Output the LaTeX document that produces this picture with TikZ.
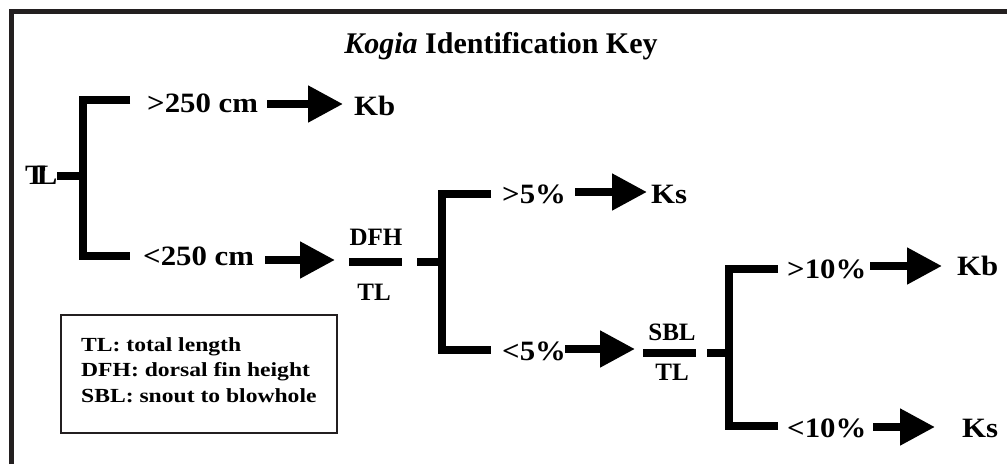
\documentclass[tikz,border=0pt]{standalone}
\usepackage{fontspec}
\setmainfont{Liberation Serif}
\newfontfamily\keyfont[FakeStretch=1.1]{Liberation Serif}
\newfontfamily\legfont[FakeStretch=1.18]{Liberation Serif}
\usetikzlibrary{arrows.meta}
\definecolor{framegray}{HTML}{231F20}
\tikzset{
  bar/.style={line width=8pt},
  fat/.style={line width=8pt,-{Triangle[length=35pt,width=35pt]}},
  big/.style={inner sep=0pt,anchor=base west,font=\keyfont\bfseries\fontsize{28}{30}\selectfont},
  frac/.style={inner sep=0pt,anchor=base,font=\bfseries\fontsize{25}{27}\selectfont},
  keytext/.style={inner sep=0pt,anchor=north west,align=left,
    font=\legfont\bfseries\fontsize{20}{25.5}\selectfont},
}
\begin{document}
\begin{tikzpicture}[x=1pt,y=-1pt]
\useasboundingbox (0,0) rectangle (1007,464);
% frame (cut at right and bottom)
\draw[line width=5.5pt,color=framegray] (11.5,464) -- (11.5,11.5) -- (1007,11.5);
\node[inner sep=0pt,anchor=base,font=\bfseries\fontsize{30}{32}\selectfont] (title) at (501,53) {\textit{Kogia} Identification Key};

% total length
\node[big] (tl) at (25,184) {T\kern-9pt L};
\coordinate (f1) at (82.5,176);
\coordinate (f1a) at (130,100);
\coordinate (f1b) at (130,256);
\draw[bar] (tl.east |- f1) -- (f1);
\draw[bar] (f1a) -| (f1) |- (f1b);
\node[big] (gt250) at (147,112) {>250 cm};
\node[big] (lt250) at (143,265) {<250 cm};
\node[big] (kb1) at (354,115) {Kb};
\coordinate (a1s) at (267,104);
\coordinate (a1e) at (343,104);
\coordinate (a2s) at (265,260);
\coordinate (a2e) at (335,260);
\draw[fat] (a1s) -- (a1e);
\draw[fat] (a2s) -- (a2e);

% dorsal fin height / total length
\node[frac] (dfh) at (376,245) {DFH};
\node[frac] (tla) at (374,300) {TL};
\coordinate (r1l) at (349,262);
\coordinate (r1r) at (402,262);
\coordinate (d1) at (417,262);
\coordinate (f2) at (441.5,262);
\coordinate (f2a) at (491,193.5);
\coordinate (f2b) at (491,350);
\draw[bar] (r1l) -- (r1r);
\draw[bar] (d1) -- (f2);
\draw[bar] (f2a) -| (f2) |- (f2b);
\node[big] (gt5) at (502,203) {>5\%};
\node[big] (lt5) at (502,360) {<5\%};
\node[big] (ks1) at (651,203) {Ks};
\coordinate (a3s) at (575,192);
\coordinate (a3e) at (647,192);
\coordinate (a4s) at (565,349);
\coordinate (a4e) at (635,349);
\draw[fat] (a3s) -- (a3e);
\draw[fat] (a4s) -- (a4e);

% snout to blowhole / total length
\node[frac] (sbl) at (672,340) {SBL};
\node[frac] (tlb) at (672,380) {TL};
\coordinate (r2l) at (643,353);
\coordinate (r2r) at (696,353);
\coordinate (d2) at (707,353);
\coordinate (f3) at (728.5,353);
\coordinate (f3a) at (778,269);
\coordinate (f3b) at (778,426);
\draw[bar] (r2l) -- (r2r);
\draw[bar] (d2) -- (f3);
\draw[bar] (f3a) -| (f3) |- (f3b);
\node[big] (gt10) at (787,278) {>10\%};
\node[big] (lt10) at (787,437) {<10\%};
\node[big] (kb2) at (957,275) {Kb};
\node[big] (ks2) at (962,437) {Ks};
\coordinate (a5s) at (870,266);
\coordinate (a5e) at (942,266);
\coordinate (a6s) at (873,427);
\coordinate (a6e) at (935,427);
\draw[fat] (a5s) -- (a5e);
\draw[fat] (a6s) -- (a6e);

% key
\draw[line width=2.5pt,color=framegray] (61,315) rectangle (337,433);
\node[keytext] (key) at (81,337.3) {TL: total length\\DFH: dorsal fin height\\SBL: snout to blowhole};
\end{tikzpicture}
\end{document}
